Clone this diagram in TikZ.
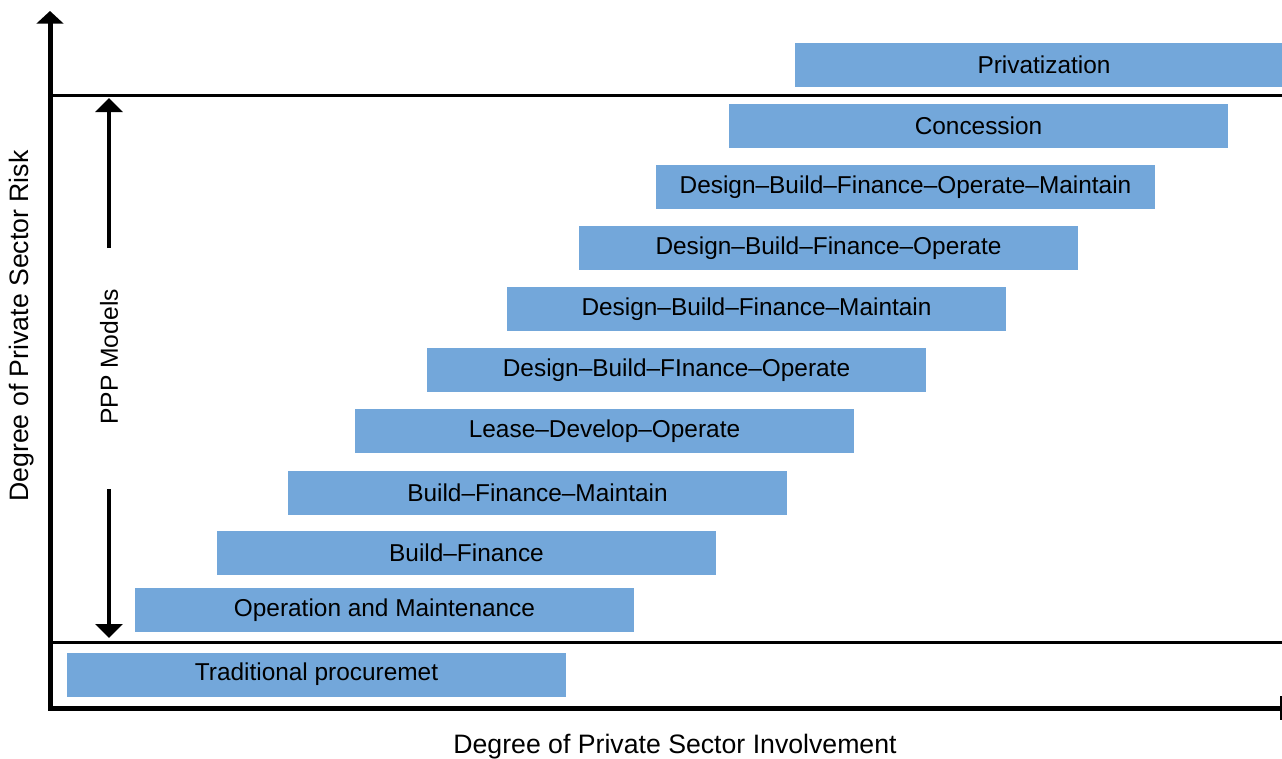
\documentclass[tikz,border=0pt]{standalone}
\usepackage{fontspec}
\setmainfont{Liberation Sans}
\usetikzlibrary{arrows.meta}
\definecolor{boxblue}{RGB}{115,167,218}
\begin{document}
\begin{tikzpicture}[x=0.75pt,y=-0.75pt,
  box/.style={rectangle,fill=boxblue,inner sep=0pt,minimum width=374.25pt,minimum height=33pt,font=\fontsize{18.3pt}{20pt}\selectfont},
  axis/.style={line width=3.75pt},
  sep/.style={line width=2.25pt},
  bigtip/.style={-{Triangle[length=9.5pt,width=20pt]}},
  ppptip/.style={-{Triangle[length=10.5pt,width=20pt]}},
  lbl/.style={font=\fontsize{20pt}{22pt}\selectfont}]
\useasboundingbox (0,0) rectangle (1282,758);
\clip (0,0) rectangle (1282,758);
% axes
\coordinate (origin) at (50,708);
\coordinate (ytop) at (50,11);
\coordinate (xend) at (1281,708);
\coordinate (tickA) at (1281,696);
\coordinate (tickB) at (1281,720);
\draw[axis,bigtip] ([yshift=-1.5pt]origin) -- (ytop);
\draw[axis] ([xshift=-1.5pt]origin) -- (xend);
\draw[line width=0.9pt] (tickA) -- (tickB);
% separators
\coordinate (s1l) at (50,95);
\coordinate (s1r) at (1282,95);
\coordinate (s2l) at (50,642);
\coordinate (s2r) at (1282,642);
\draw[sep] (s1l) -- (s1r);
\draw[sep] (s2l) -- (s2r);
% PPP arrows
\coordinate (pa1) at (109,248);
\coordinate (pa2) at (109,98);
\coordinate (pb1) at (109,489);
\coordinate (pb2) at (109,638);
\draw[line width=3.5pt,ppptip] (pa1) -- (pa2);
\draw[line width=3.5pt,ppptip] (pb1) -- (pb2);
\node[rotate=90,font=\fontsize{18.5pt}{20pt}\selectfont] (ppp) at (109,357) {PPP Models};
% labels
\node[lbl,rotate=90] (ylab) at (22,326) {Degree of Private Sector Risk};
\node[lbl] (xlab) at (675,747) {Degree of Private Sector Involvement};
% boxes
\node[box] (priv) at (1044,65) {Privatization};
\node[box] (conc) at (978.5,126) {Concession};
\node[box] (dbfom) at (905.5,187) {Design–Build–Finance–Operate–Maintain};
\node[box] (dbfo) at (828.5,248) {Design–Build–Finance–Operate};
\node[box] (dbfm) at (756.5,309) {Design–Build–Finance–Maintain};
\node[box] (dbfo2) at (676.5,370) {Design–Build–FInance–Operate};
\node[box] (ldo) at (604.5,431) {Lease–Develop–Operate};
\node[box] (bfm) at (537.5,493) {Build–Finance–Maintain};
\node[box] (bf) at (466.5,553) {Build–Finance};
\node[box] (om) at (384.5,610) {Operation and Maintenance};
\node[box] (trad) at (316.5,674.5) {Traditional procuremet};
\end{tikzpicture}
\end{document}
